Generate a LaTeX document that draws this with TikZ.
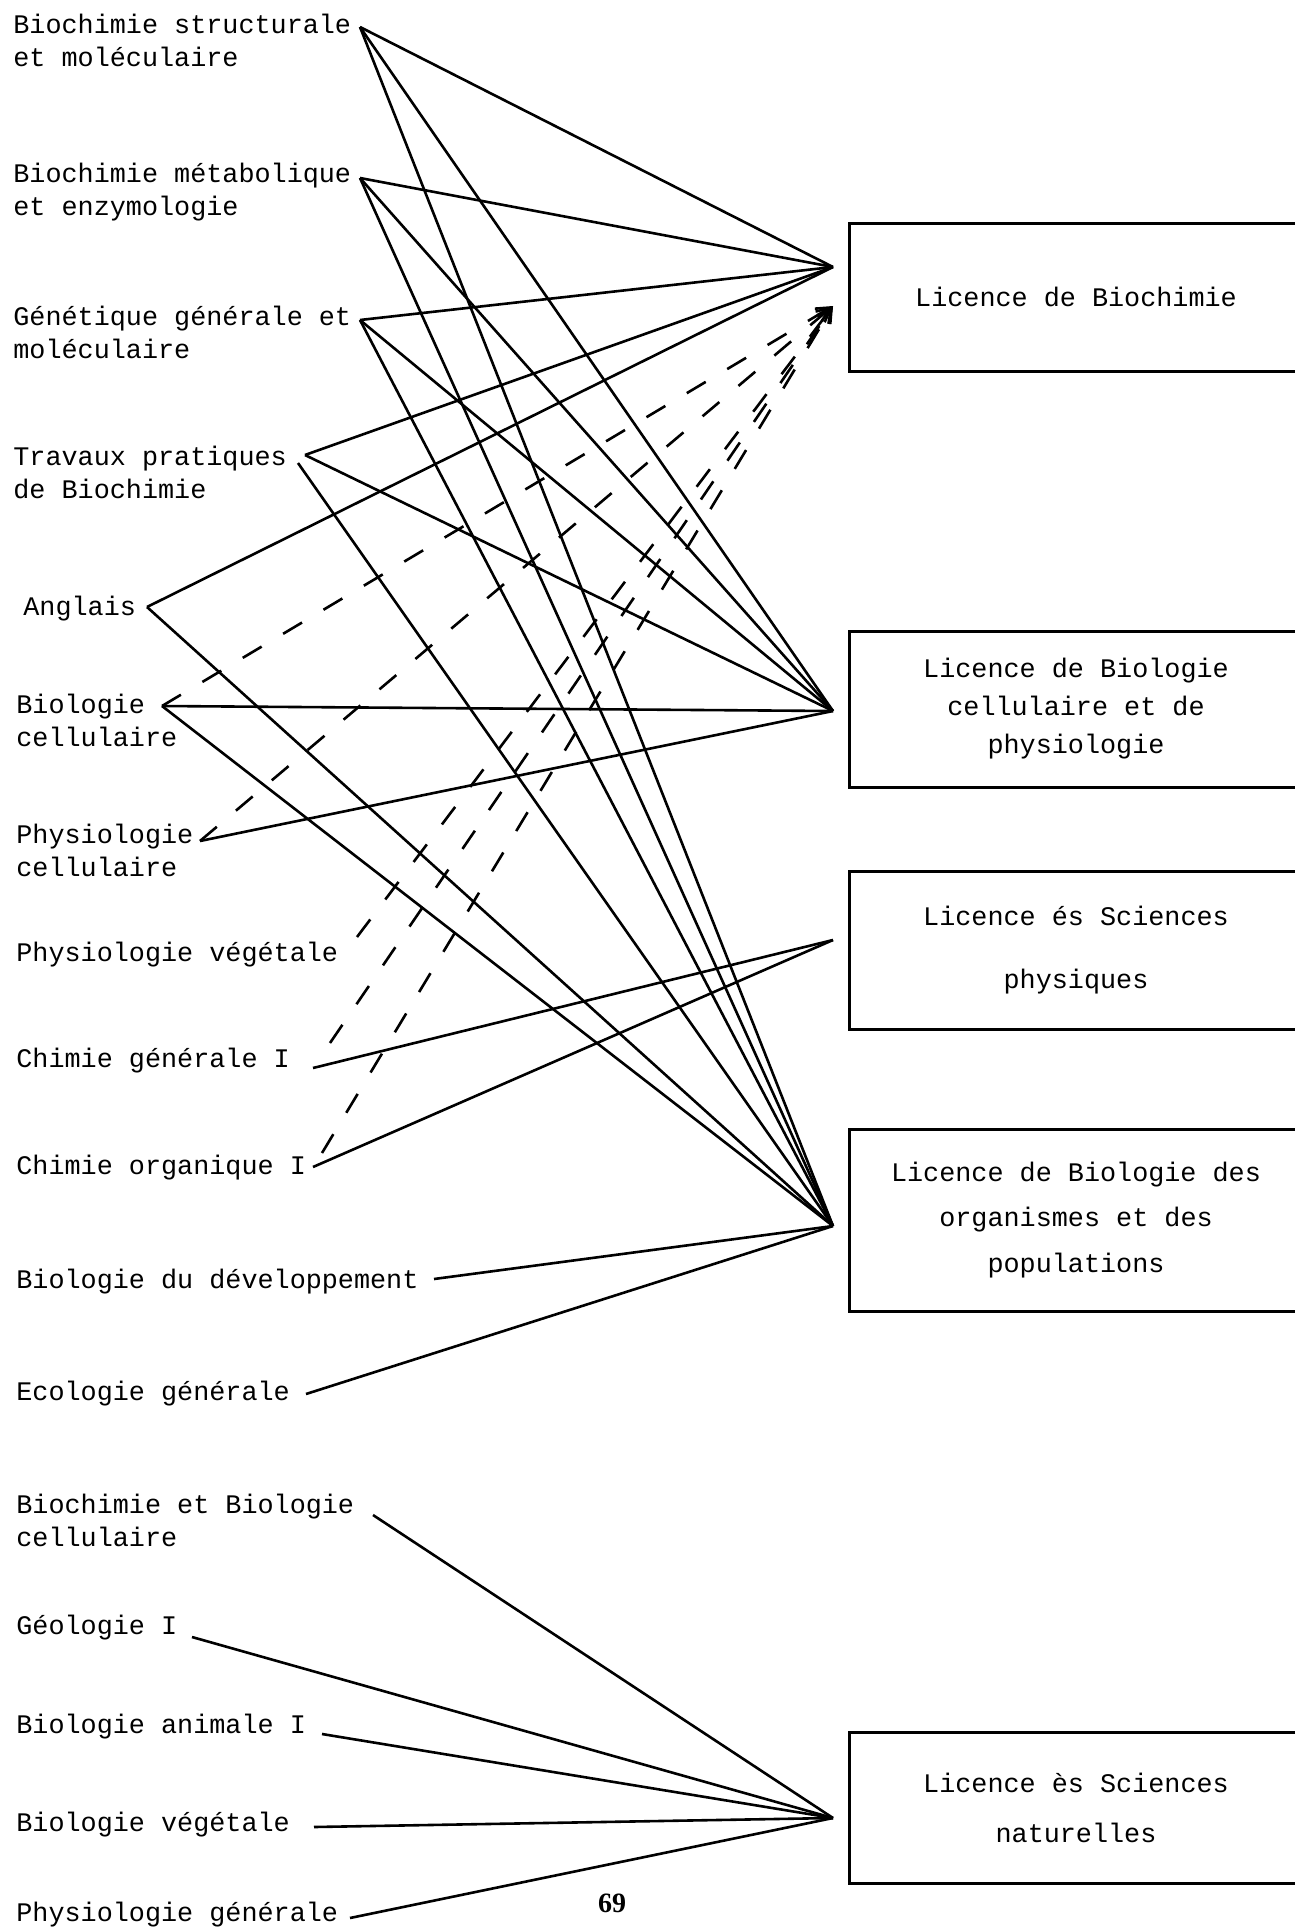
\documentclass[tikz,border=0pt]{standalone}
\usepackage{fontspec}
\setmonofont{Liberation Mono}
\newfontfamily\pagefont{Liberation Serif}
\usetikzlibrary{arrows.meta}

\begin{document}
\begin{tikzpicture}[x=0.5pt,y=-0.5pt,
        course/.style={anchor=base west,align=left,inner sep=0pt,font=\ttfamily\fontsize{13.4}{16.5}\selectfont},
        licence/.style={draw,line width=1.5pt,align=center,minimum width=227pt,font=\ttfamily\fontsize{13.4}{#1}\selectfont},
        link/.style={line width=1.3pt},
        dlink/.style={line width=1.3pt,dash pattern=on 11pt off 12.5pt,-{Straight Barb[length=7pt,width=7pt]}}]
    \useasboundingbox (0,0) rectangle (1295,1928);
    % courses (base = last line)
    \node [course] (bstruct) at (13,66) {Biochimie structurale\\et moléculaire};
    \node [course] (bmetab) at (13,215) {Biochimie métabolique\\et enzymologie};
    \node [course] (genet) at (13,358) {Génétique générale et\\moléculaire};
    \node [course] (travp) at (13,498) {Travaux pratiques\\de Biochimie};
    \node [course] (angl) at (23,615) {Anglais};
    \node [course] (bcell) at (16,746) {Biologie\\cellulaire};
    \node [course] (pcell) at (16,876) {Physiologie\\cellulaire};
    \node [course] (pveg) at (16,961) {Physiologie végétale};
    \node [course] (chgen) at (16,1067) {Chimie générale I};
    \node [course] (chorg) at (16,1174) {Chimie organique I};
    \node [course] (bdev) at (16,1288) {Biologie du développement};
    \node [course] (ecol) at (16,1400) {Ecologie générale};
    \node [course] (bbc) at (16,1546) {Biochimie et Biologie\\cellulaire};
    \node [course] (geol) at (16,1634) {Géologie I};
    \node [course] (banim) at (16,1733) {Biologie animale I};
    \node [course] (bveg) at (16,1831) {Biologie végétale};
    \node [course] (pgen) at (16,1921) {Physiologie générale};
    % licences
    \node [licence=15.5,minimum height=74pt] (lbioch) at (1076,297) {Licence de Biochimie};
    \node [licence=19,minimum height=78pt] (lbcp) at (1076,709) {Licence de Biologie\\cellulaire et de\\physiologie};
    \node [licence=31.5,minimum height=79pt] (lsp) at (1076,950) {Licence és Sciences\\physiques};
    \node [licence=22.75,minimum height=91pt] (lbop) at (1076,1220) {Licence de Biologie des\\organismes et des\\populations};
    \node [licence=25,minimum height=75.5pt] (lsn) at (1076,1808) {Licence ès Sciences\\naturelles};
    \node [font=\pagefont\bfseries\fontsize{14}{14}\selectfont] (pnum) at (612,1903) {69};
    % line ends
    \coordinate (bstruct-e) at (360,27);
    \coordinate (bmetab-e) at (360,178);
    \coordinate (genet-e) at (360,320);
    \coordinate (travp-e) at (305,455);
    \coordinate (travp-f) at (298,463);
    \coordinate (angl-e) at (147,607);
    \coordinate (bcell-e) at (162,706);
    \coordinate (pcell-e) at (200,841);
    \coordinate (pveg-d) at (357,937);
    \coordinate (chgen-e) at (313,1068);
    \coordinate (chgen-d) at (330,1043);
    \coordinate (chorg-e) at (313,1167);
    \coordinate (chorg-d) at (322,1153);
    \coordinate (bdev-e) at (434,1279);
    \coordinate (ecol-e) at (306,1394);
    \coordinate (bbc-e) at (373,1515);
    \coordinate (geol-e) at (192,1637);
    \coordinate (banim-e) at (322,1734);
    \coordinate (bveg-e) at (314,1827);
    \coordinate (pgen-e) at (350,1918);
    \coordinate (lbioch-in) at (833,267);
    \coordinate (lbioch-tip) at (833,306);
    \coordinate (lbcp-in) at (833,711);
    \coordinate (lsp-in) at (833,940);
    \coordinate (lbop-in) at (833,1226);
    \coordinate (lsn-in) at (833,1818);
    % solid links
    \path [link]
        (bstruct-e) edge (lbioch-in) edge (lbcp-in) edge (lbop-in)
        (bmetab-e) edge (lbioch-in) edge (lbcp-in) edge (lbop-in)
        (genet-e) edge (lbioch-in) edge (lbcp-in) edge (lbop-in)
        (travp-e) edge (lbioch-in) edge (lbcp-in)
        (travp-f) edge (lbop-in)
        (angl-e) edge (lbioch-in) edge (lbop-in)
        (bcell-e) edge (lbcp-in) edge (lbop-in)
        (pcell-e) edge (lbcp-in)
        (chgen-e) edge (lsp-in)
        (chorg-e) edge (lsp-in)
        (bdev-e) edge (lbop-in)
        (ecol-e) edge (lbop-in)
        (bbc-e) edge (lsn-in)
        (geol-e) edge (lsn-in)
        (banim-e) edge (lsn-in)
        (bveg-e) edge (lsn-in)
        (pgen-e) edge (lsn-in);
    % dashed links
    \path [dlink]
        (bcell-e) edge (lbioch-tip)
        (pcell-e) edge (lbioch-tip)
        (pveg-d) edge (lbioch-tip)
        (chgen-d) edge (lbioch-tip)
        (chorg-d) edge (lbioch-tip);
\end{tikzpicture}
\end{document}
